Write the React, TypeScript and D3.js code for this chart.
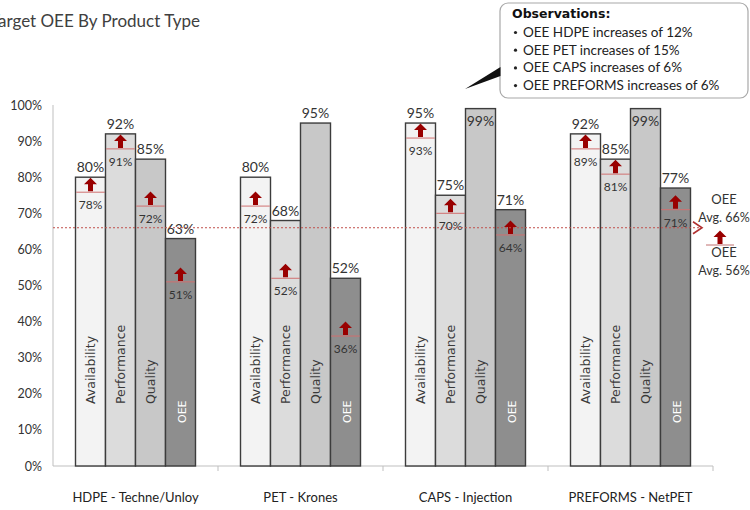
import React from "react";
import * as d3 from "d3";

const categories = ["HDPE - Techne/Unloy", "PET - Krones", "CAPS - Injection", "PREFORMS - NetPET"];
const metrics = ["Availability", "Performance", "Quality", "OEE"];
const targetAvailability = [80, 80, 95, 92];
const targetPerformance = [92, 68, 75, 85];
const targetQuality = [85, 95, 99, 99];
const targetOEE = [63, 52, 71, 77];
const currentAvailability: (number | null)[] = [78, 72, 93, 89];
const currentPerformance: (number | null)[] = [91, 52, 70, 81];
const currentQuality: (number | null)[] = [72, null, null, null];
const currentOEE: (number | null)[] = [51, 36, 64, 71];
const yTicks = [0, 10, 20, 30, 40, 50, 60, 70, 80, 90, 100];
const avgTargetOEE = 66;
const avgCurrentOEE = 56;
const title = "Target OEE By Product Type";
const observationsTitle = "Observations:";
const observations = [
  "OEE HDPE increases of 12%",
  "OEE PET increases of 15%",
  "OEE CAPS increases of 6%",
  "OEE PREFORMS increases of 6%",
];

const targets = [targetAvailability, targetPerformance, targetQuality, targetOEE];
const currents = [currentAvailability, currentPerformance, currentQuality, currentOEE];
const fills = ["#f3f3f3", "#dcdcdc", "#c8c8c8", "#8e8e8e"];

const LATO = "Lato, 'Open Sans', sans-serif";
const DEJA = "'DejaVu Sans', Verdana, sans-serif";

function arrowPath(cx: number, yb: number) {
  return `M${cx - 2.5},${yb} L${cx - 2.5},${yb - 7} L${cx - 6.5},${yb - 7} L${cx},${yb - 13.5} L${cx + 6.5},${yb - 7} L${cx + 2.5},${yb - 7} L${cx + 2.5},${yb} Z`;
}

export default function App() {
  const W = 750, H = 510;
  const x0 = d3.scaleBand<string>().domain(categories).range([53, 713]).paddingInner(0).paddingOuter(0);
  const x1 = d3.scaleBand<string>().domain(metrics).range([0, x0.bandwidth()]).paddingInner(0).paddingOuter(0.75);
  const y = d3.scaleLinear().domain([0, 100]).range([466, 105]);
  const bw = x1.bandwidth();

  const bars: React.ReactNode[] = [];
  categories.forEach((cat, ci) => {
    metrics.forEach((m, mi) => {
      const v = targets[mi][ci];
      const old = currents[mi][ci];
      const bx = (x0(cat) as number) + (x1(m) as number);
      const cx = bx + bw / 2;
      const top = y(v);
      bars.push(
        <rect key={`b${ci}${mi}`} x={bx} y={top} width={bw} height={y(0) - top}
          fill={fills[mi]} stroke="#3c3c3c" strokeWidth={1.4} />
      );
      const inside = v >= 97;
      bars.push(
        <text key={`v${ci}${mi}`} x={cx} y={inside ? top + 17 : top - 5} textAnchor="middle"
          fontFamily={LATO} fontSize={14} fill="#333">{v}%</text>
      );
      const isOEE = mi === 3;
      bars.push(
        <text key={`n${ci}${mi}`} transform={`translate(${cx},${y(0) - (isOEE ? 43 : 62)}) rotate(-90)`}
          x={0} y={isOEE ? 5 : 4.5} textAnchor="start" fontFamily={DEJA} fontSize={isOEE ? 11 : 12.5}
          fill={isOEE ? "#ffffff" : "#3a3a3a"}>{m}</text>
      );
      if (old !== null) {
        const ly = Math.max(y(old), top + 15);
        bars.push(
          <line key={`l${ci}${mi}`} x1={bx + 0.7} x2={bx + bw - 0.7} y1={ly} y2={ly} stroke="#d07070" strokeWidth={1} />
        );
        bars.push(<path key={`a${ci}${mi}`} d={arrowPath(cx, ly - 1)} fill="#990000" />);
        bars.push(
          <text key={`o${ci}${mi}`} x={cx} y={ly + 17} textAnchor="middle" fontFamily={LATO} fontSize={12} fill="#333">{old}%</text>
        );
      }
    });
  });

  const avgY = y(avgTargetOEE);

  return (
    <svg width={W} height={H} style={{ position: "absolute", left: 0, top: 0, display: "block", background: "#fff" }}>
      <rect x={0} y={0} width={W} height={H} fill="#fff" />
      <text x={200} y={27} textAnchor="end" fontFamily={LATO} fontSize={17} fill="#404040">{title}</text>

      {/* y axis */}
      <line x1={53} x2={53} y1={y(100)} y2={y(0)} stroke="#bfbfbf" strokeWidth={1} />
      {yTicks.map((t) => (
        <text key={`yt${t}`} x={42} y={y(t)} dy="0.36em" textAnchor="end" fontFamily={LATO} fontSize={12.5} fill="#333">{t}%</text>
      ))}

      {/* x axis */}
      <line x1={53} x2={713} y1={y(0)} y2={y(0)} stroke="#bfbfbf" strokeWidth={1} />
      {categories.map((c, i) => (
        <line key={`xt${i}`} x1={(x0(c) as number) + x0.bandwidth()} x2={(x0(c) as number) + x0.bandwidth()}
          y1={y(0)} y2={y(0) + 5} stroke="#bfbfbf" strokeWidth={1} />
      ))}
      {categories.map((c, i) => (
        <text key={`xl${i}`} x={(x0(c) as number) + x0.bandwidth() / 2} y={502} textAnchor="middle"
          fontFamily={LATO} fontSize={13} fill="#222">{c}</text>
      ))}

      {bars}

      {/* average line */}
      <line x1={53} x2={700} y1={avgY} y2={avgY} stroke="#c0504d" strokeWidth={1} strokeDasharray="2,2" />
      <path d={`M${693},${avgY - 6} L${702},${avgY} L${693},${avgY + 6}`} fill="none" stroke="#b03030" strokeWidth={1.6} />
      <text x={724} y={204} textAnchor="middle" fontFamily={LATO} fontSize={13} fill="#333">OEE</text>
      <text x={724} y={222} textAnchor="middle" fontFamily={LATO} fontSize={12.5} fill="#333">Avg. {avgTargetOEE}%</text>
      <line x1={706} x2={734} y1={245} y2={245} stroke="#c07070" strokeWidth={1} />
      <path d={arrowPath(720, 244)} fill="#990000" />
      <text x={724} y={257} textAnchor="middle" fontFamily={LATO} fontSize={13} fill="#333">OEE</text>
      <text x={724} y={275} textAnchor="middle" fontFamily={LATO} fontSize={12.5} fill="#333">Avg. {avgCurrentOEE}%</text>

      {/* observations callout */}
      <rect x={500} y={3} width={248} height={95} rx={8} ry={8} fill="#fff" stroke="#a8a8a8" strokeWidth={1.2} />
      <path d="M500.5,67 L500.5,76 L465,89 Z" fill="#111" />
      <text x={512} y={18} fontFamily={DEJA} fontWeight="bold" fontSize={12.5} fill="#111">{observationsTitle}</text>
      {observations.map((o, i) => (
        <g key={`ob${i}`}>
          <circle cx={515.5} cy={32.5 + i * 17.7} r={1.6} fill="#222" />
          <text x={523} y={37 + i * 17.7} fontFamily={LATO} fontSize={13.5} fill="#222">{o}</text>
        </g>
      ))}
    </svg>
  );
}
